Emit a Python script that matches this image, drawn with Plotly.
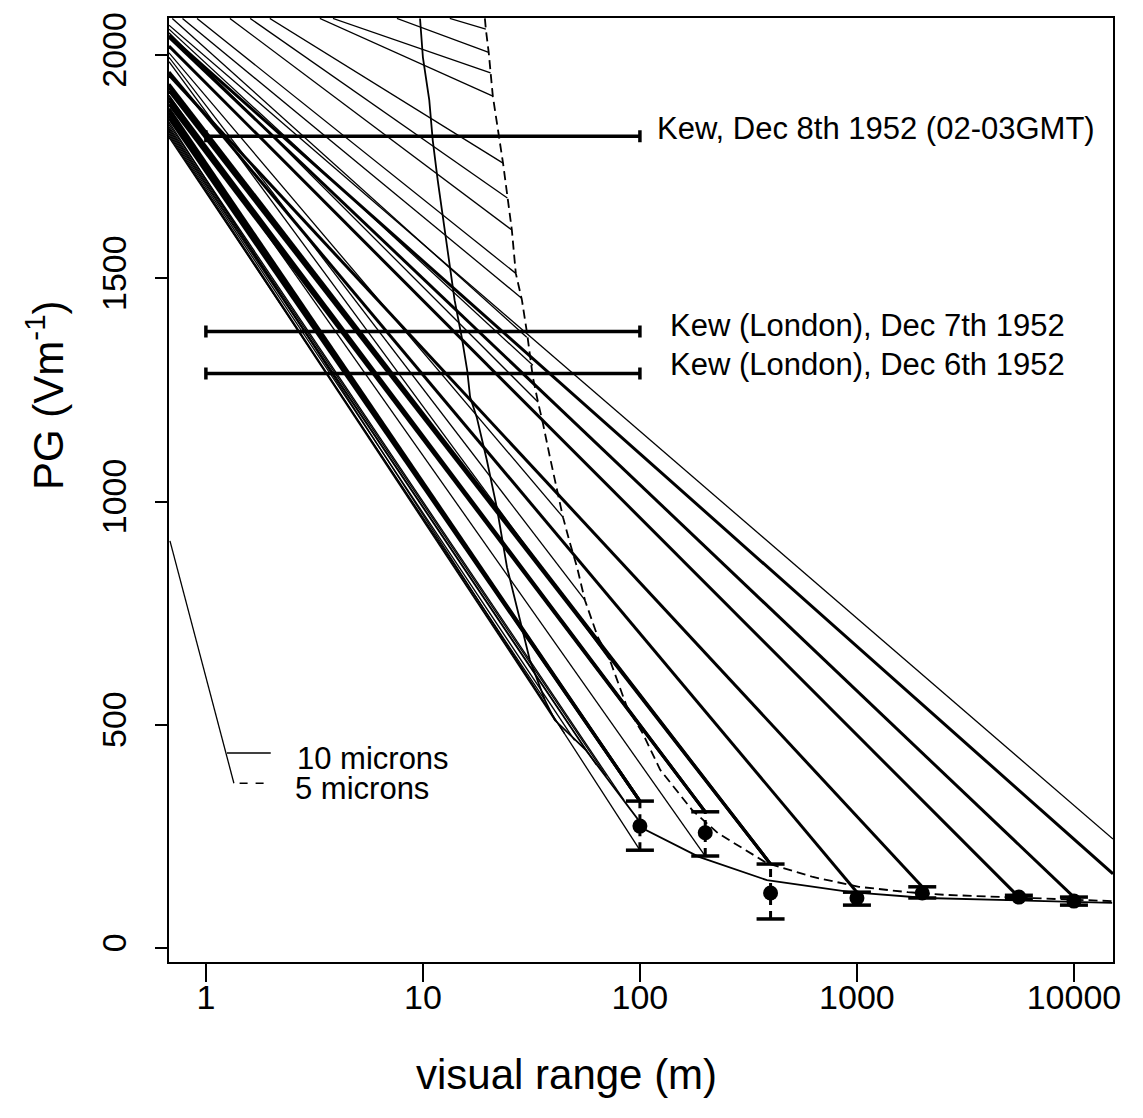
import math
import plotly.graph_objects as go

# thin lines: start (x, PG) -> end (x, PG)
thin_x0 = [13.3, 7.59, 3.85, 3.35, 1.97, 1.6, 1.29, 0.91, 0.78, 0.70, 0.676, 0.676, 0.676,
           0.676, 0.676, 0.676, 0.676, 0.676,
           0.676, 0.676, 0.676, 0.676, 0.676, 0.676, 0.676, 0.676]
thin_pg0 = [2082, 2082, 2082, 2082, 2082, 2082, 2082, 2082, 2082, 2082, 2067, 2058, 2050,
            2005, 1995, 1985, 1910, 1850,
            1845, 1840, 1836, 1832, 1828, 1824, 1820, 1816]
thin_x1 = [19.5, 20.1, 20.5, 21.0, 23.4, 24.5, 25.7, 26.8, 28.6, 30.1, 15136, 32.1, 33.9,
           44.2, 55.8, 72.7, 200, 100,
           84.4, 70, 63, 56.4, 50, 45, 40.6, 36.5]
thin_pg1 = [2058, 2006, 1960, 1908, 1758, 1680, 1608, 1511, 1455, 1368, 244, 1305, 1223,
            965, 779, 645, 206, 219,
            331, 385, 410, 443, 465, 480, 510, 555]

# thick lines
thick_x0 = [0.676] * 15
thick_pg0 = [2044, 2040, 2020, 1955, 1962, 1935, 1928, 1920, 1905, 1898, 1890,
             1880, 1872, 1865, 1858]
thick_x1 = [15136, 10000, 5575, 2000, 1000, 400, 400, 400, 200, 200, 200,
            100, 100, 100, 100]
thick_pg1 = [166, 114, 114, 137, 125, 188, 188, 188, 305, 305, 305,
             329, 329, 329, 329]

# 10 micron curve (solid) and 5 micron curve (dashed)
c10_x = [9.7, 10.0, 10.7, 11.1, 11.7, 12.6, 13.3, 14.0, 15.1, 16.0, 16.5, 17.7,
         19.7, 21.9, 24.4, 27.1, 31.1, 36.5, 40.6, 56.4, 84.4, 106.6, 187, 385,
         938, 2080, 15000]
c10_pg = [2082, 1995, 1899, 1809, 1720, 1608, 1525, 1451, 1368, 1294, 1234, 1189,
          1093, 987, 853, 760, 645, 555, 510, 443, 331, 264, 204, 152,
          125, 112, 101]
c5_x = [19.3, 19.5, 20.1, 21.0, 23.4, 25.7, 26.8, 28.6, 30.2, 32.1, 33.9, 35.7,
        38.5, 40.6, 44.2, 47.6, 51.3, 55.8, 64.0, 72.7, 87.1, 103, 124, 174,
        229, 385, 627, 1021, 1718, 2546, 6970, 15000]
c5_pg = [2082, 2058, 2006, 1908, 1758, 1608, 1511, 1451, 1377, 1279, 1223, 1176,
         1099, 1048, 965, 907, 853, 779, 696, 645, 540, 481, 399, 309,
         257, 190, 159, 137, 125, 119, 112, 105]

# observations with error bars
obs_x = [100, 200, 400, 1000, 2000, 5575, 10000]
obs_pg = [273, 258, 123, 112, 123, 114, 105]
obs_hi = [329, 305, 188, 125, 137, 118, 114]
obs_lo = [219, 206, 65, 96, 112, 110, 96]

# Kew fog periods (horizontal bars from 1 m to 100 m)
kew_pg = [1818, 1381, 1287]
kew_lo = [1, 1, 1]
kew_hi = [100, 100, 100]
kew_text = ["Kew, Dec 8th 1952 (02-03GMT)", "Kew (London), Dec 7th 1952",
            "Kew (London), Dec 6th 1952"]
kew_text_x = [117, 134, 134]
kew_text_pg = [1836, 1395, 1308]

# legend key
key_slant_x = [0.683, 1.346]
key_slant_pg = [912, 369]
key_solid_x = [1.25, 1.99]
key_dash_x = [1.43, 1.89]
key_pg = [437, 369]
key_text = ["10 microns", "5 microns"]
key_text_x = [2.57, 2.52]
key_text_pg = [425, 358]

FONT = "Liberation Sans, Arial, sans-serif"


def segs(x0, y0, x1, y1):
    xs, ys = [], []
    for a, b, c, d in zip(x0, y0, x1, y1):
        xs += [a, c, None]
        ys += [b, d, None]
    return xs, ys


fig = go.Figure()

xs, ys = segs(thin_x0, thin_pg0, thin_x1, thin_pg1)
fig.add_trace(go.Scatter(x=xs, y=ys, mode="lines", line=dict(color="black", width=1.3)))
xs, ys = segs(thick_x0, thick_pg0, thick_x1, thick_pg1)
fig.add_trace(go.Scatter(x=xs, y=ys, mode="lines", line=dict(color="black", width=3)))

fig.add_trace(go.Scatter(x=c10_x, y=c10_pg, mode="lines", line=dict(color="black", width=1.8)))
fig.add_trace(go.Scatter(x=c5_x, y=c5_pg, mode="lines",
                         line=dict(color="black", width=1.8, dash="9px,5px")))

# observation error bars: dashed stems, solid caps
xs, ys = segs(obs_x, obs_lo, obs_x, obs_hi)
fig.add_trace(go.Scatter(x=xs, y=ys, mode="lines",
                         line=dict(color="black", width=3, dash="8px,6px")))
fig.add_trace(go.Scatter(x=obs_x + obs_x, y=obs_hi + obs_lo, mode="markers",
                         marker=dict(symbol="line-ew", size=20,
                                     line=dict(color="black", width=3.5))))
fig.add_trace(go.Scatter(x=obs_x, y=obs_pg, mode="markers",
                         marker=dict(color="black", size=15)))

# horizontal Kew bars: centre at geometric middle, error_x to the ends
kew_mid = [(a * b) ** 0.5 for a, b in zip(kew_lo, kew_hi)]
fig.add_trace(go.Scatter(
    x=kew_mid, y=kew_pg, mode="markers", marker=dict(size=0.1, color="rgba(0,0,0,0)"),
    error_x=dict(type="data", symmetric=False,
                 array=[h - m for h, m in zip(kew_hi, kew_mid)],
                 arrayminus=[m - l for m, l in zip(kew_mid, kew_lo)],
                 color="black", thickness=3.5, width=6)))

for t, x, y in zip(kew_text, kew_text_x, kew_text_pg):
    fig.add_annotation(x=math.log10(x), y=y, xref="x", yref="y", text=t, showarrow=False,
                       xanchor="left", yanchor="middle",
                       font=dict(family=FONT, size=31, color="black"))

# legend key
fig.add_trace(go.Scatter(x=key_slant_x, y=key_slant_pg, mode="lines",
                         line=dict(color="black", width=1.3)))
fig.add_trace(go.Scatter(x=key_solid_x, y=[key_pg[0]] * 2, mode="lines",
                         line=dict(color="black", width=1.5)))
fig.add_trace(go.Scatter(x=key_dash_x, y=[key_pg[1]] * 2, mode="lines",
                         line=dict(color="black", width=1.5, dash="8px,8px")))
for t, x, y in zip(key_text, key_text_x, key_text_pg):
    fig.add_annotation(x=math.log10(x), y=y, xref="x", yref="y", text=t, showarrow=False,
                       xanchor="left", yanchor="middle",
                       font=dict(family=FONT, size=31, color="black"))

# axis titles
fig.add_annotation(x=0.4206, y=-0.1197, xref="paper", yref="paper",
                   text="visual range (m)", showarrow=False,
                   xanchor="center", yanchor="middle",
                   font=dict(family=FONT, size=42, color="black"))
fig.add_annotation(x=-0.1314, y=0.6006, xref="paper", yref="paper",
                   text="PG (Vm<sup>-1</sup>)", showarrow=False, textangle=-90,
                   xanchor="center", yanchor="middle",
                   font=dict(family=FONT, size=42, color="black"))

fig.update_layout(
    width=1143, height=1118,
    margin=dict(l=161, r=38, t=10, b=164),
    paper_bgcolor="white", plot_bgcolor="white",
    showlegend=False,
    font=dict(family=FONT, size=34, color="black"),
)
fig.update_xaxes(type="log", range=[-0.17, 4.18], automargin=False,
                 tickvals=[1, 10, 100, 1000, 10000],
                 ticktext=["1", "10", "100", "1000", "10000"],
                 ticks="outside", ticklen=18, tickwidth=1.5, tickcolor="black",
                 ticklabelstandoff=-14,
                 showline=True, mirror=True, linecolor="black", linewidth=1.5,
                 showgrid=False, zeroline=False)
fig.update_yaxes(range=[-31.4, 2083], automargin=False,
                 tickvals=[0, 500, 1000, 1500, 2000],
                 tickangle=-90,
                 ticks="outside", ticklen=12, tickwidth=1.5, tickcolor="black",
                 ticklabelstandoff=16,
                 showline=True, mirror=True, linecolor="black", linewidth=1.5,
                 showgrid=False, zeroline=False)

fig.write_html("out.html")
